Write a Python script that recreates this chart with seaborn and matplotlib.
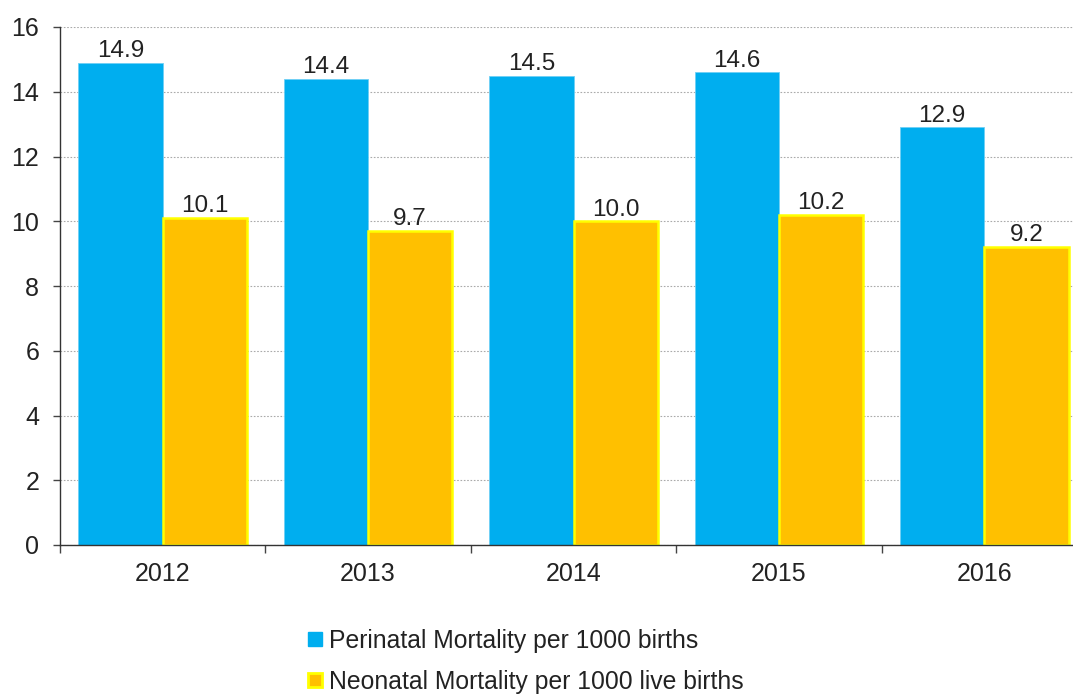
import matplotlib
matplotlib.use("Agg")
import matplotlib.pyplot as plt
import seaborn as sns
import pandas as pd
from matplotlib.lines import Line2D

years = ["2012", "2013", "2014", "2015", "2016"]
perinatal = [14.9, 14.4, 14.5, 14.6, 12.9]
neonatal = [10.1, 9.7, 10.0, 10.2, 9.2]
series_names = ["Perinatal Mortality per 1000 births",
                "Neonatal Mortality per 1000 live births"]
yticks = [0, 2, 4, 6, 8, 10, 12, 14, 16]

blue = "#00AEEF"
orange = "#FFC000"
yellow = "#FFFF00"
txt = "#222222"

df = pd.DataFrame({
    "year": years * 2,
    "value": perinatal + neonatal,
    "series": [series_names[0]] * len(years) + [series_names[1]] * len(years),
})

sns.set_style("white")
plt.rcParams["font.family"] = ["Liberation Sans", "DejaVu Sans"]

fig = plt.figure(figsize=(10.73, 6.94), dpi=100)
ax = fig.add_axes([60 / 1073, 149 / 694, 1027 / 1073, 518 / 694])

sns.barplot(data=df, x="year", y="value", hue="series", order=years,
            hue_order=series_names, palette=[blue, orange], width=0.82,
            gap=0, saturation=1, ax=ax, legend=False)

for i, cont in enumerate(ax.containers):
    for p in cont:
        if i == 1:
            p.set_edgecolor(yellow)
            p.set_linewidth(1.8)
        else:
            p.set_edgecolor("#6fd0f5")
            p.set_linewidth(0.6)
    ax.bar_label(cont, fmt="%.1f", padding=0.5, fontsize=17.5, color=txt)

ax.set_xlim(-0.5, len(years) - 0.5)
ax.set_ylim(0, 16)
ax.set_yticks(yticks)
ax.set_yticklabels([str(t) for t in yticks], fontsize=18, color=txt)
ax.tick_params(axis="y", length=5, width=1, color="#444444", left=True, pad=10)

ax.set_xticks(range(len(years)))
ax.set_xticklabels(years, fontsize=18, color=txt)
ax.tick_params(axis="x", which="major", length=0, pad=12)
ax.set_xticks([i - 0.5 for i in range(len(years) + 1)], minor=True)
ax.tick_params(axis="x", which="minor", length=6, width=1, color="#444444", bottom=True)

ax.grid(axis="y", linestyle=(0, (1.5, 1.5)), color="#aaaaaa", linewidth=0.8)
ax.set_axisbelow(True)
ax.set_xlabel("")
ax.set_ylabel("")
for s in ["top", "right"]:
    ax.spines[s].set_visible(False)
for s in ["left", "bottom"]:
    ax.spines[s].set_color("#333333")
    ax.spines[s].set_linewidth(1)

handles = [
    Line2D([], [], marker="s", linestyle="none", markersize=10,
           markerfacecolor=blue, markeredgecolor=blue),
    Line2D([], [], marker="s", linestyle="none", markersize=10,
           markerfacecolor=orange, markeredgecolor=yellow, markeredgewidth=2),
]
leg = fig.legend(handles, series_names, loc="upper left",
                 bbox_to_anchor=(308 / 1073, 1 - 629 / 694), frameon=False,
                 fontsize=17.8, labelcolor=txt, handlelength=0.6,
                 handletextpad=0.25, labelspacing=0.68, borderpad=0,
                 borderaxespad=0)

fig.savefig("out.png", dpi=100)
